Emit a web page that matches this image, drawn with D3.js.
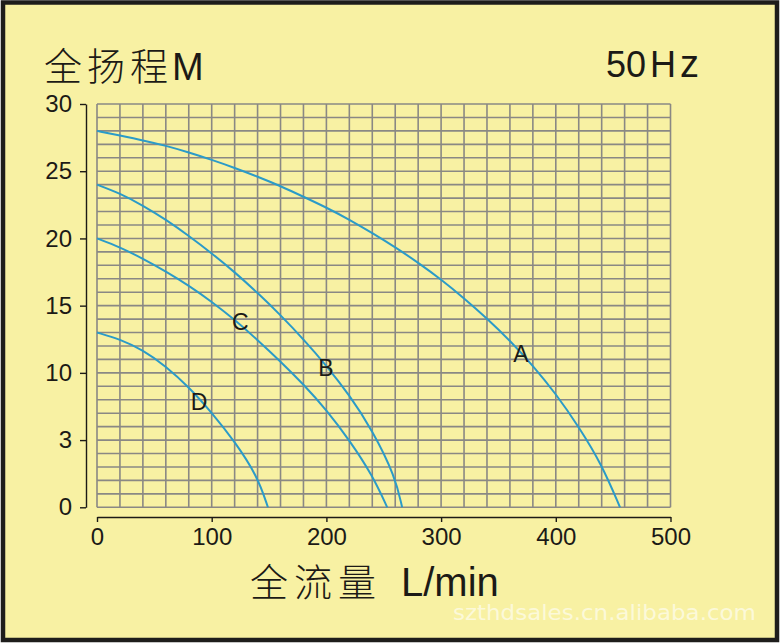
<!DOCTYPE html>
<html>
<head>
<meta charset="utf-8">
<script src="https://cdn.jsdelivr.net/npm/d3@7"></script>
<style>
  html, body { margin: 0; padding: 0; background: #fff; }
  svg { display: block; }
</style>
</head>
<body>
<div id="chart"></div>
<script>
// pump curves, flow (L/min) vs head (m)
var flowA = [0, 20, 40, 60, 80, 100, 120, 140, 160, 180, 200, 220, 240, 260, 280, 300, 320, 340, 360, 380, 400, 420, 440, 456];
var headA = [28, 27.65, 27.3, 26.9, 26.4, 25.85, 25.25, 24.6, 23.9, 23.1, 22.3, 21.4, 20.4, 19.35, 18.2, 16.95, 15.55, 14.05, 12.4, 10.55, 8.45, 6.0, 3.2, 0];
var flowB = [0, 20, 40, 60, 80, 100, 120, 140, 160, 180, 200, 220, 240, 260, 266];
var headB = [24, 23.35, 22.45, 21.4, 20.2, 18.9, 17.5, 15.95, 14.3, 12.5, 10.55, 8.35, 5.75, 2.3, 0];
var flowC = [0, 20, 40, 60, 80, 100, 120, 140, 160, 180, 200, 220, 240, 253];
var headC = [20, 19.35, 18.5, 17.55, 16.5, 15.3, 13.95, 12.45, 10.85, 9.15, 7.25, 5.0, 2.4, 0];
var flowD = [0, 20, 40, 60, 80, 100, 120, 140, 149];
var headD = [13, 12.5, 11.7, 10.5, 8.95, 7.05, 4.9, 2.3, 0];

var curveNames = ["A", "B", "C", "D"];
// where each letter sits (flow, head)
var labelFlow = [369.5, 199.5, 125, 89];
var labelHead = [10.8, 9.8, 13.2, 7.25];

var xTicks = [0, 100, 200, 300, 400, 500];
var yTicks = [0, 5, 10, 15, 20, 25, 30];
var yTickLabels = ["0", "3", "10", "15", "20", "25", "30"];

var width = 781, height = 644;
var bg = "#f8f1a3";
var ink = "#1c1a16";
var blue = "#2b9bc8";

var svg = d3.select("#chart").append("svg")
  .attr("width", width)
  .attr("height", height);

// frame
svg.append("rect")
  .attr("x", 3).attr("y", 2.5)
  .attr("width", 774).attr("height", 637.5)
  .attr("fill", bg)
  .attr("stroke", "#1e1d1b")
  .attr("stroke-width", 4.5);

var x = d3.scaleLinear().domain([0, 500]).range([97, 670.5]);
var y = d3.scaleLinear().domain([0, 30]).range([507.3, 104]);

// grid: 20 L/min by 1 m
var grid = svg.append("g").attr("stroke", "#8a8884").attr("stroke-width", 1.6);
grid.selectAll("line.v")
  .data(d3.range(0, 501, 20))
  .enter().append("line")
  .attr("class", "v")
  .attr("x1", d => x(d)).attr("x2", d => x(d))
  .attr("y1", y(0)).attr("y2", y(30));
grid.selectAll("line.h")
  .data(d3.range(0, 31, 1))
  .enter().append("line")
  .attr("class", "h")
  .attr("x1", x(0)).attr("x2", x(500))
  .attr("y1", d => y(d)).attr("y2", d => y(d));

// axes sit a little off the grid
var yAxis = d3.axisLeft(y)
  .tickValues(yTicks)
  .tickFormat((d, i) => yTickLabels[i])
  .tickSize(6)
  .tickSizeOuter(0)
  .tickPadding(8);
var gy = svg.append("g").attr("transform", "translate(86,0)").call(yAxis);

var xAxis = d3.axisBottom(x)
  .tickValues(xTicks)
  .tickSize(5)
  .tickSizeOuter(0)
  .tickPadding(6);
var gx = svg.append("g").attr("transform", "translate(0,517)").call(xAxis);

[gy, gx].forEach(function (g) {
  g.attr("font-family", "'Liberation Sans', Arial, sans-serif").attr("font-size", 24);
  g.selectAll("path, line").attr("stroke", ink).attr("stroke-width", 1.4);
  g.selectAll("text").attr("fill", ink);
});

// curves
var series = [
  d3.zip(flowA, headA),
  d3.zip(flowB, headB),
  d3.zip(flowC, headC),
  d3.zip(flowD, headD)
];
var line = d3.line()
  .x(d => x(d[0]))
  .y(d => y(d[1]))
  .curve(d3.curveBasis);

svg.append("g").selectAll("path")
  .data(series)
  .enter().append("path")
  .attr("d", line)
  .attr("fill", "none")
  .attr("stroke", blue)
  .attr("stroke-width", 2);

svg.append("g").selectAll("text")
  .data(curveNames)
  .enter().append("text")
  .attr("x", (d, i) => x(labelFlow[i]))
  .attr("y", (d, i) => y(labelHead[i]))
  .attr("text-anchor", "middle")
  .attr("font-family", "'Liberation Sans', Arial, sans-serif")
  .attr("font-size", 23)
  .attr("fill", ink)
  .text(d => d);

// titles
var title = svg.append("text")
  .attr("x", 44).attr("y", 79.5)
  .attr("fill", ink)
  .attr("font-size", 38);
title.append("tspan")
  .attr("font-family", "'Noto Sans CJK SC', sans-serif")
  .attr("font-weight", 300)
  .attr("letter-spacing", 5)
  .text("全扬程");
title.append("tspan")
  .attr("x", 172)
  .attr("font-family", "'Liberation Sans', Arial, sans-serif")
  .text("M");

var hz = svg.append("text")
  .attr("x", 606).attr("y", 77)
  .attr("fill", ink)
  .attr("font-family", "'Liberation Sans', Arial, sans-serif")
  .attr("font-size", 36);
hz.append("tspan").text("50");
hz.append("tspan").attr("x", 650).text("H");
hz.append("tspan").attr("x", 680).attr("font-size", 38).text("z");

var xTitle = svg.append("text")
  .attr("x", 250).attr("y", 596)
  .attr("fill", ink)
  .attr("font-size", 38);
xTitle.append("tspan")
  .attr("font-family", "'Noto Sans CJK SC', sans-serif")
  .attr("font-weight", 300)
  .attr("letter-spacing", 6)
  .text("全流量");
xTitle.append("tspan")
  .attr("x", 401)
  .attr("font-family", "'Liberation Sans', Arial, sans-serif")
  .attr("font-size", 40)
  .text("L/min");

// watermark
svg.append("text")
  .attr("x", 453).attr("y", 620)
  .attr("fill", "#ffffff")
  .attr("fill-opacity", 0.6)
  .attr("font-family", "'DejaVu Sans', sans-serif")
  .attr("font-size", 22)
  .attr("textLength", 303)
  .attr("lengthAdjust", "spacingAndGlyphs")
  .text("szthdsales.cn.alibaba.com");
</script>
</body>
</html>
